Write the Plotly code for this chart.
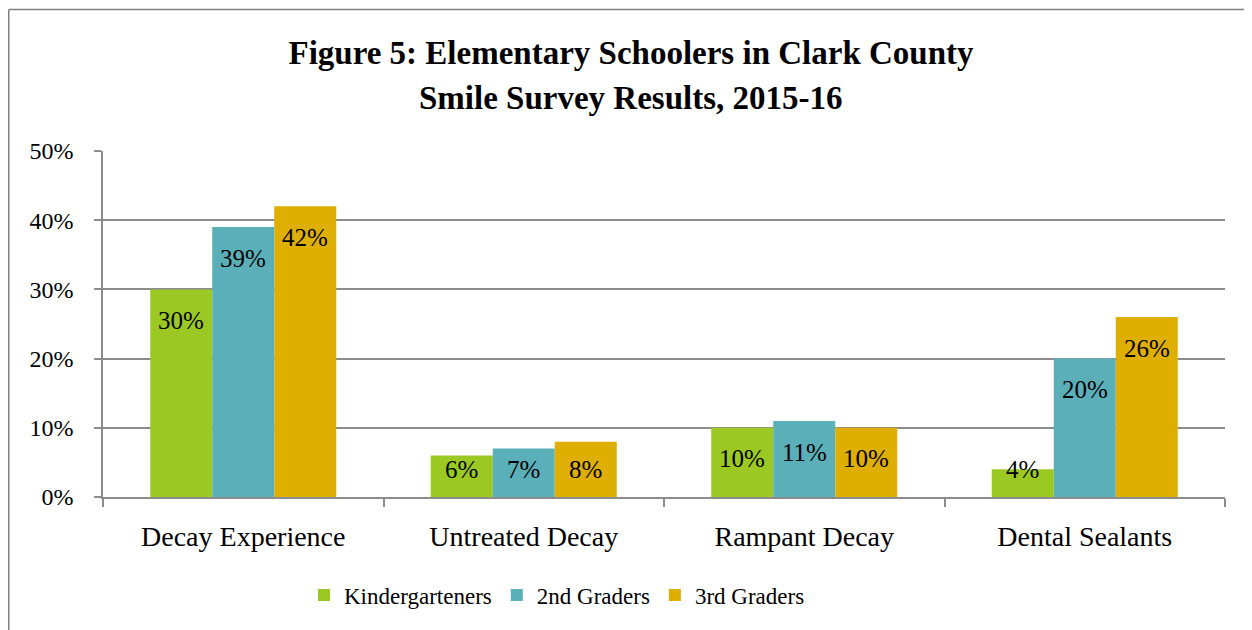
import plotly.graph_objects as go

categories = ["Decay Experience", "Untreated Decay", "Rampant Decay", "Dental Sealants"]
series_names = ["Kindergarteners", "2nd Graders", "3rd Graders"]
kindergarteners = [30, 6, 10, 4]
second_graders = [39, 7, 11, 20]
third_graders = [42, 8, 10, 26]
colors = ["#9BC823", "#5AAFB9", "#DEAE00"]
y_ticks = [0, 10, 20, 30, 40, 50]
y_tick_labels = ["0%", "10%", "20%", "30%", "40%", "50%"]

title_line1 = "Figure 5: Elementary Schoolers in Clark County"
title_line2 = "Smile Survey Results, 2015-16"

SERIF = "Liberation Serif"
BARGAP = 0.337
OFF = 8  # page body margin

fig = go.Figure()
all_values = [kindergarteners, second_graders, third_graders]
for name, vals, col in zip(series_names, all_values, colors):
    fig.add_trace(go.Bar(
        x=categories, y=vals, name=name,
        marker=dict(color=col, line=dict(width=0)),
        hoverinfo="x+y+name",
    ))

# data labels: inside end (Excel-like), derived from values
bar_w = (1 - BARGAP) / len(series_names)
annotations = []
for j, vals in enumerate(all_values):
    for i, v in enumerate(vals):
        annotations.append(dict(
            x=i + (j - 1) * bar_w, y=max(v - 4.5, 4.0), xref="x", yref="y",
            text=f"{v}%", showarrow=False, xanchor="center", yanchor="middle",
            font=dict(family=SERIF, size=25, color="#000000"),
        ))

annotations.append(dict(
    x=(631 - 103) / 1122, y=(497 - 98) / 346, xref="paper", yref="paper",
    text=f"<b>{title_line2}</b>", showarrow=False, xanchor="center", yanchor="middle",
    font=dict(family=SERIF, size=33, color="#000000"),
))

border = "#808080"
shapes = [
    dict(type="line", xref="paper", yref="paper", x0=-0.084, x1=-0.084, y0=-0.45, y1=1.409,
         line=dict(color=border, width=1.5)),
    dict(type="line", xref="paper", yref="paper", x0=-0.084, x1=1.05, y0=1.409, y1=1.409,
         line=dict(color=border, width=1.5)),
]

fig.update_layout(
    width=1252, height=630,
    margin=dict(l=103 - OFF, r=1252 - 1225 + OFF, t=151 - OFF, b=630 - 497 + OFF),
    paper_bgcolor="white", plot_bgcolor="white",
    barmode="group", bargap=BARGAP, bargroupgap=0,
    title=dict(text=f"<b>{title_line1}</b>", x=(631 - OFF) / 1252, xanchor="center",
               xref="container", yref="container", y=1 - (52 - OFF) / 630, yanchor="middle",
               font=dict(family=SERIF, size=33, color="#000000")),
    font=dict(family=SERIF, size=24, color="#000000"),
    showlegend=True,
    legend=dict(orientation="h", x=(318 - 103 - 14) / 1122, xanchor="left",
                y=(497 - 595) / 346, yanchor="middle",
                font=dict(family=SERIF, size=23, color="#000000"),
                traceorder="normal", bgcolor="rgba(0,0,0,0)"),
    annotations=annotations,
    shapes=shapes,
)

fig.update_xaxes(
    showgrid=False, showline=True, linecolor="#8c8c8c", linewidth=1.5,
    ticks="outside", tickson="boundaries", ticklen=8, tickcolor="#8c8c8c", tickwidth=1.5,
    tickfont=dict(family=SERIF, size=28, color="#000000"), ticklabelstandoff=14,
)
fig.update_yaxes(
    range=[0, 50], tickvals=y_ticks, ticktext=y_tick_labels,
    showgrid=True, gridcolor="#8c8c8c", gridwidth=1.5,
    showline=True, linecolor="#8c8c8c", linewidth=1.5,
    ticks="outside", ticklen=7, tickcolor="#8c8c8c", tickwidth=1.5,
    tickfont=dict(family=SERIF, size=24, color="#000000"), ticklabelstandoff=16,
    zeroline=False,
)

fig.write_html("out.html")
